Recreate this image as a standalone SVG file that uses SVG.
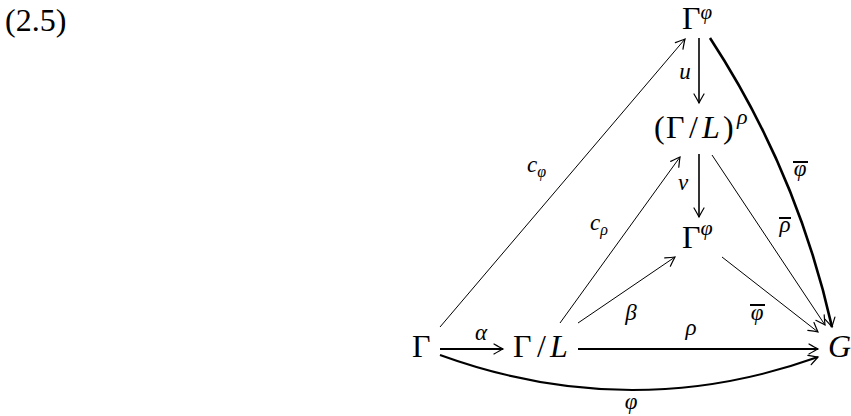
<svg xmlns="http://www.w3.org/2000/svg" width="851" height="416" viewBox="0 0 851 416">
<style>
text{font-family:"Liberation Serif","Times New Roman",serif;fill:#000}
.m{font-size:32px}
.i{font-style:italic}
.lab{font-size:23px;font-style:italic}
.sup{font-size:22px;font-style:italic}
.sub{font-size:16px;font-style:italic}
.thin{fill:none;stroke:#000;stroke-width:1}
.thick{fill:none;stroke:#000;stroke-width:2}
.bold{fill:none;stroke:#000;stroke-width:2.6}
</style>
<defs>
<marker id="ah" markerUnits="userSpaceOnUse" viewBox="-12 -7 14 14" refX="0" refY="0" markerWidth="14" markerHeight="14" orient="auto" overflow="visible">
<path d="M-9,-5 Q-3,-1.5 0,0 Q-3,1.5 -9,5" fill="none" stroke="#000" stroke-width="1.2" stroke-linecap="round"/>
</marker>
</defs>
<text class="m" x="5" y="31">(2.5)</text>
<g id="connectors">
<line class="thick" style="stroke-width:1.6" x1="699" y1="38" x2="699" y2="103" marker-end="url(#ah)"/>
<line class="thick" style="stroke-width:1.6" x1="699" y1="154" x2="699" y2="217" marker-end="url(#ah)"/>
<line class="thin" x1="440" y1="327" x2="685" y2="39" marker-end="url(#ah)"/>
<line class="thin" x1="560" y1="323" x2="680" y2="157" marker-end="url(#ah)"/>
<line class="thin" x1="578" y1="323" x2="675" y2="257" marker-end="url(#ah)"/>
<line class="thin" x1="712" y1="155" x2="825" y2="325" marker-end="url(#ah)"/>
<line class="thin" x1="722" y1="257" x2="818" y2="332" marker-end="url(#ah)"/>
<path class="bold" d="M710,38 Q797,171 832,327" marker-end="url(#ah)"/>
<line class="thick" x1="440" y1="349" x2="503" y2="349" marker-end="url(#ah)"/>
<line class="thick" x1="578" y1="349" x2="818" y2="349" marker-end="url(#ah)"/>
<path class="thick" d="M440,355 Q630,424 818,357" marker-end="url(#ah)"/>
<text class="lab" x="685" y="79" text-anchor="middle">u</text>
<text class="lab" x="683" y="190" text-anchor="middle">v</text>
<text class="lab" x="481" y="340" text-anchor="middle">α</text>
<text class="lab" x="691" y="335" text-anchor="middle">ρ</text>
<text class="lab" x="631" y="320" text-anchor="middle">β</text>
<text class="lab" x="631" y="409" text-anchor="middle">φ</text>
<text class="lab" x="527" y="172">c<tspan class="sub" dy="5">φ</tspan></text>
<text class="lab" x="590" y="230">c<tspan class="sub" dy="5">ρ</tspan></text>
<text class="lab" x="800" y="176" text-anchor="middle">φ</text>
<rect x="793" y="161" width="15" height="2"/>
<text class="lab" x="785" y="232" text-anchor="middle">ρ</text>
<rect x="779" y="217" width="12" height="2"/>
<text class="lab" x="757" y="320" text-anchor="middle">φ</text>
<rect x="750" y="304" width="15" height="2"/>
</g>
<g id="n-top"><text class="m" x="682" y="29">Γ<tspan class="sup" style="font-size:21px" dy="-10">φ</tspan></text></g>
<g id="n-quot-rho"><text class="m" y="138"><tspan x="654">(</tspan><tspan x="666">Γ</tspan><tspan x="689">/</tspan><tspan x="702" class="i">L</tspan><tspan x="723">)</tspan><tspan x="737" y="124" class="sup">ρ</tspan></text></g>
<g id="n-mid"><text class="m" x="682" y="248">Γ<tspan class="sup" dy="-13">φ</tspan></text></g>
<g id="n-gamma"><text class="m" x="412" y="357">Γ</text></g>
<g id="n-quot"><text class="m" y="357"><tspan x="513">Γ</tspan><tspan x="537">/</tspan><tspan x="550" class="i">L</tspan></text></g>
<g id="n-G"><text class="m i" x="828" y="357">G</text></g>
</svg>
